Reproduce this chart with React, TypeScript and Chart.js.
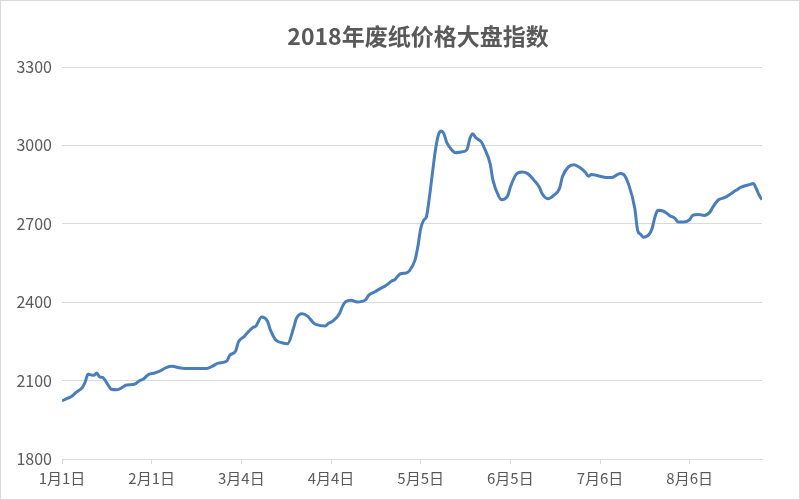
import React, { useEffect, useRef } from "react";
import { Chart, registerables } from "chart.js";

Chart.register(...registerables);

const chartTitle = "2018年废纸价格大盘指数";

// day offset from 1月1日
const days = [
  0, 2, 3, 5, 7, 8, 9, 11, 12, 13, 14, 16, 17, 19, 21, 22, 25, 27, 28, 30,
  32, 34, 36, 38, 41, 44, 46, 50, 52, 54, 57, 58, 60, 61, 63, 64, 66, 67, 69, 71,
  72, 74, 76, 78, 80, 81, 83, 85, 87, 88, 91, 92, 94, 96, 97, 98, 100, 102, 105, 106,
  108, 110, 112, 114, 115, 117, 119, 120, 122, 123, 124, 125, 126, 127, 128, 129, 130, 131, 132, 133,
  135, 136, 138, 140, 141, 142, 143, 145, 146, 148, 149, 151, 152, 154, 155, 157, 159, 161, 163, 165,
  166, 168, 170, 172, 173, 175, 177, 179, 181, 182, 183, 186, 188, 190, 193, 194, 196, 198, 199, 200,
  201, 203, 204, 205, 206, 208, 209, 210, 212, 213, 215, 217, 218, 220, 222, 224, 225, 227, 229, 231,
  233, 235, 238, 239, 240, 241, 242,
];

const indexValues = [
  2022, 2033, 2037, 2056, 2073, 2094, 2124, 2120, 2129, 2114, 2112, 2082, 2067, 2065, 2075, 2082, 2086, 2101, 2105, 2124,
  2129, 2137, 2150, 2155, 2148, 2146, 2146, 2146, 2155, 2167, 2175, 2197, 2212, 2248, 2269, 2282, 2303, 2308, 2343, 2328,
  2295, 2254, 2245, 2241, 2299, 2337, 2356, 2346, 2320, 2314, 2309, 2318, 2331, 2358, 2385, 2402, 2407, 2401, 2410, 2426,
  2439, 2452, 2464, 2481, 2486, 2509, 2512, 2519, 2560, 2611, 2681, 2713, 2728, 2800, 2888, 2975, 3035, 3055, 3045, 3012,
  2980, 2972, 2975, 2984, 3026, 3045, 3030, 3013, 2990, 2930, 2866, 2805, 2792, 2805, 2840, 2889, 2898, 2892, 2869, 2841,
  2815, 2796, 2809, 2835, 2880, 2917, 2926, 2915, 2896, 2882, 2889, 2882, 2877, 2877, 2892, 2890, 2847, 2760, 2675, 2660,
  2649, 2660, 2682, 2726, 2752, 2748, 2741, 2732, 2720, 2707, 2707, 2716, 2732, 2736, 2732, 2745, 2764, 2792, 2800, 2813,
  2828, 2841, 2851, 2854, 2835, 2810, 2792,
];

const tickDays = [0, 31, 62, 93, 124, 155, 186, 217];
const tickLabels = ["1月1日", "2月1日", "3月4日", "4月4日", "5月5日", "6月5日", "7月6日", "8月6日"];
const yTicks = [1800, 2100, 2400, 2700, 3000, 3300];

const textColor = "#595959";
const gridColor = "#d9d9d9";
const cjkFamily = '"Noto Sans CJK SC", sans-serif';

const titlePlugin = {
  id: "centredTitle",
  afterDraw(chart: any) {
    const ctx = chart.ctx;
    ctx.save();
    ctx.font = `bold 23px ${cjkFamily}`;
    ctx.fillStyle = textColor;
    ctx.textAlign = "center";
    ctx.textBaseline = "middle";
    ctx.fillText(chartTitle, 417, 35);
    ctx.restore();
  },
};

export default function App() {
  const ref = useRef<HTMLCanvasElement | null>(null);

  useEffect(() => {
    if (!ref.current) return;
    const points = days.map((d, i) => ({ x: d, y: indexValues[i] }));
    const chart = new Chart(ref.current, {
      type: "line",
      data: {
        datasets: [
          {
            data: points,
            borderColor: "#4a7ebb",
            borderWidth: 3,
            pointRadius: 0,
            tension: 0.3,
            cubicInterpolationMode: "monotone",
            fill: false,
          },
        ],
      },
      options: {
        responsive: false,
        animation: false,
        layout: { padding: { left: 0, right: 37, top: 66, bottom: 0 } },
        plugins: {
          legend: { display: false },
          tooltip: { enabled: false },
          title: { display: false },
        },
        scales: {
          x: {
            type: "linear",
            min: 0,
            max: 242,
            afterBuildTicks: (axis: any) => {
              axis.ticks = tickDays.map((v) => ({ value: v }));
            },
            afterFit: (scale: any) => {
              scale.height = 40;
            },
            ticks: {
              color: textColor,
              font: { family: cjkFamily, size: 15 },
              padding: 5,
              maxRotation: 0,
              autoSkip: false,
              callback: (value: any) => {
                const i = tickDays.indexOf(Number(value));
                return i >= 0 ? tickLabels[i] : "";
              },
            },
            grid: {
              drawOnChartArea: false,
              drawTicks: true,
              tickLength: 5,
              color: gridColor,
            },
            border: { display: true, color: gridColor, width: 1 },
          },
          y: {
            min: 1800,
            max: 3300,
            afterBuildTicks: (axis: any) => {
              axis.ticks = yTicks.map((v) => ({ value: v }));
            },
            afterFit: (scale: any) => {
              scale.width = 61;
            },
            ticks: {
              color: textColor,
              font: { family: cjkFamily, size: 16 },
              padding: 10,
              callback: (value: any) => String(value),
            },
            grid: { color: gridColor, drawTicks: false, lineWidth: 1 },
            border: { display: false },
          },
        },
      },
      plugins: [titlePlugin],
    } as any);
    return () => chart.destroy();
  }, []);

  return (
    <div
      style={{
        position: "fixed",
        left: 0,
        top: 0,
        width: 800,
        height: 500,
        boxSizing: "border-box",
        border: "1px solid #d9d9d9",
        background: "#fff",
      }}
    >
      <canvas ref={ref} width={798} height={498} style={{ display: "block" }} />
    </div>
  );
}
